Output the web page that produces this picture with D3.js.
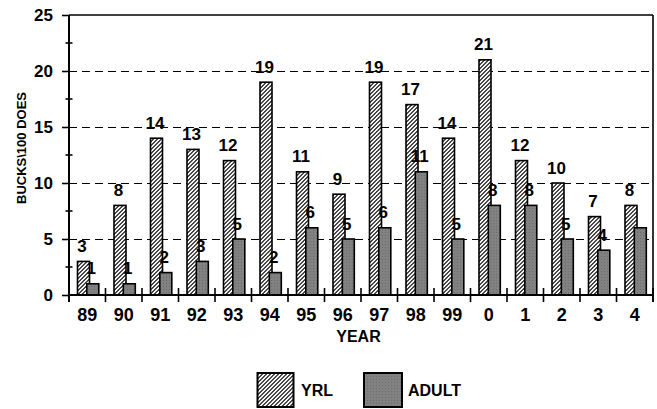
<!DOCTYPE html>
<html>
<head>
<meta charset="utf-8">
<script src="https://cdn.jsdelivr.net/npm/d3@7"></script>
<style>
  html, body { margin: 0; padding: 0; background: #fff; }
  svg { display: block; font-family: "Liberation Sans", Arial, sans-serif; font-weight: bold; }
</style>
</head>
<body>
<svg id="chart" width="657" height="409"></svg>
<script>
// Bucks per 100 does, by year
const years = ["89", "90", "91", "92", "93", "94", "95", "96", "97", "98", "99", "0", "1", "2", "3", "4"];
const yrl = [3, 8, 14, 13, 12, 19, 11, 9, 19, 17, 14, 21, 12, 10, 7, 8];
const adult = [1, 1, 2, 3, 5, 2, 6, 5, 6, 11, 5, 8, 8, 5, 4, 6];
const seriesNames = ["YRL", "ADULT"];
const yTicks = [0, 5, 10, 15, 20, 25];
const yMinorTicks = [2.5, 7.5, 12.5, 17.5, 22.5];
const adultUnlabelled = ["4"];

const svg = d3.select("#chart");
const plotLeft = 69, plotRight = 653, plotTop = 15, plotBottom = 295;

const x = d3.scaleBand().domain(years).range([plotLeft, plotRight]).padding(0);
const y = d3.scaleLinear().domain([0, 25]).range([plotBottom, plotTop]);

// Fill patterns: fine diagonal hatch and dotted gray
const defs = svg.append("defs");
const hatch = defs.append("pattern").attr("id", "hatch")
  .attr("patternUnits", "userSpaceOnUse").attr("width", 4).attr("height", 4);
hatch.append("rect").attr("width", 4).attr("height", 4).attr("fill", "#f4f4f4");
d3.range(4).forEach(py => {
  [(3 - py + 4) % 4, (4 - py) % 4].forEach(px => {
    hatch.append("rect").attr("x", px).attr("y", py).attr("width", 1).attr("height", 1)
      .attr("fill", "#474747").attr("shape-rendering", "crispEdges");
  });
});

const dots = defs.append("pattern").attr("id", "dots")
  .attr("patternUnits", "userSpaceOnUse").attr("width", 3).attr("height", 3);
dots.append("rect").attr("width", 3).attr("height", 3).attr("fill", "#818181");
dots.append("rect").attr("x", 1).attr("y", 1).attr("width", 1).attr("height", 1).attr("fill", "#6c6c6c");

const fills = { YRL: "url(#hatch)", ADULT: "url(#dots)" };

// Dashed gridlines
svg.append("g").selectAll("line")
  .data(yTicks.filter(t => t > 0 && t < 25))
  .join("line")
  .attr("x1", plotLeft).attr("x2", plotRight)
  .attr("y1", d => Math.round(y(d)) + 0.5).attr("y2", d => Math.round(y(d)) + 0.5)
  .attr("stroke", "#000").attr("stroke-width", 1)
  .attr("stroke-dasharray", "8,5");

// Bars
const bw = 12;
const offsets = { YRL: -10.5, ADULT: -1.2 };
const series = [
  { name: "YRL", values: yrl },
  { name: "ADULT", values: adult }
];
series.forEach(s => {
  svg.append("g").selectAll("rect")
    .data(years.map((yr, i) => ({ yr, v: s.values[i] })))
    .join("rect")
    .attr("x", d => x(d.yr) + x.bandwidth() / 2 + offsets[s.name] + 0.75)
    .attr("y", d => y(d.v))
    .attr("width", bw)
    .attr("height", d => y(0) - y(d.v))
    .attr("fill", fills[s.name])
    .attr("stroke", "#000").attr("stroke-width", 1.6);
});

// Value labels
series.forEach(s => {
  svg.append("g").selectAll("text")
    .data(years.map((yr, i) => ({ yr, v: s.values[i] }))
      .filter(d => !(s.name === "ADULT" && adultUnlabelled.includes(d.yr))))
    .join("text")
    .attr("x", d => x(d.yr) + x.bandwidth() / 2 + offsets[s.name] + 0.75 + bw / 2 - 1.5)
    .attr("y", d => y(d.v) - 9.5)
    .attr("text-anchor", "middle")
    .attr("font-size", 17)
    .attr("fill", "#000")
    .text(d => d.v);
});

// Frame: top and right borders
svg.append("line").attr("x1", plotLeft).attr("x2", plotRight).attr("y1", plotTop).attr("y2", plotTop)
  .attr("stroke", "#000").attr("stroke-width", 1.6);
svg.append("line").attr("x1", plotRight).attr("x2", plotRight).attr("y1", plotTop).attr("y2", plotBottom + 7)
  .attr("stroke", "#000").attr("stroke-width", 1.6);

// Y axis
const yAxis = svg.append("g").attr("transform", `translate(${plotLeft},0)`)
  .call(d3.axisLeft(y).tickValues(yTicks).tickSize(7).tickPadding(9).tickFormat(d3.format("d")));
yAxis.select(".domain").remove();
yAxis.selectAll(".tick line").attr("stroke", "#000").attr("stroke-width", 1.6);
yAxis.selectAll("text").attr("font-size", 17).attr("font-family", null).attr("fill", "#000");
svg.append("g").selectAll("line").data(yMinorTicks).join("line")
  .attr("x1", plotLeft - 3.5).attr("x2", plotLeft + 3.5)
  .attr("y1", d => y(d)).attr("y2", d => y(d))
  .attr("stroke", "#000").attr("stroke-width", 1.6);
svg.append("line").attr("x1", plotLeft).attr("x2", plotLeft).attr("y1", plotTop).attr("y2", plotBottom + 7)
  .attr("stroke", "#000").attr("stroke-width", 2);

// X axis
const xAxis = svg.append("g").attr("transform", `translate(0,${plotBottom})`)
  .call(d3.axisBottom(x).tickSize(0).tickPadding(13));
xAxis.select(".domain").remove();
xAxis.selectAll("text").attr("font-size", 18).attr("font-family", null).attr("fill", "#000");
svg.append("line").attr("x1", plotLeft).attr("x2", plotRight).attr("y1", plotBottom).attr("y2", plotBottom)
  .attr("stroke", "#000").attr("stroke-width", 2);
svg.append("g").selectAll("line")
  .data(d3.range(years.length + 1).map(i => plotLeft + i * x.step()))
  .join("line")
  .attr("x1", d => d).attr("x2", d => d)
  .attr("y1", plotBottom - 7).attr("y2", plotBottom + 7)
  .attr("stroke", "#000").attr("stroke-width", 1.6);

// Axis titles
svg.append("text")
  .attr("transform", "translate(26,148) rotate(-90)")
  .attr("text-anchor", "middle").attr("font-size", 13)
  .text("BUCKS\\100 DOES");
svg.append("text")
  .attr("x", 358.5).attr("y", 342)
  .attr("text-anchor", "middle").attr("font-size", 16)
  .text("YEAR");

// Legend
const legendItems = [
  { name: seriesNames[0], bx: 257.5, bwid: 36, tx: 301 },
  { name: seriesNames[1], bx: 364, bwid: 38, tx: 408 }
];
const lg = svg.append("g").selectAll("g").data(legendItems).join("g");
lg.append("rect")
  .attr("x", d => d.bx).attr("y", 373).attr("width", d => d.bwid).attr("height", 34)
  .attr("fill", d => fills[d.name]).attr("stroke", "#000").attr("stroke-width", 2);
lg.append("text")
  .attr("x", d => d.tx).attr("y", 396).attr("font-size", 16)
  .text(d => d.name);
</script>
</body>
</html>
